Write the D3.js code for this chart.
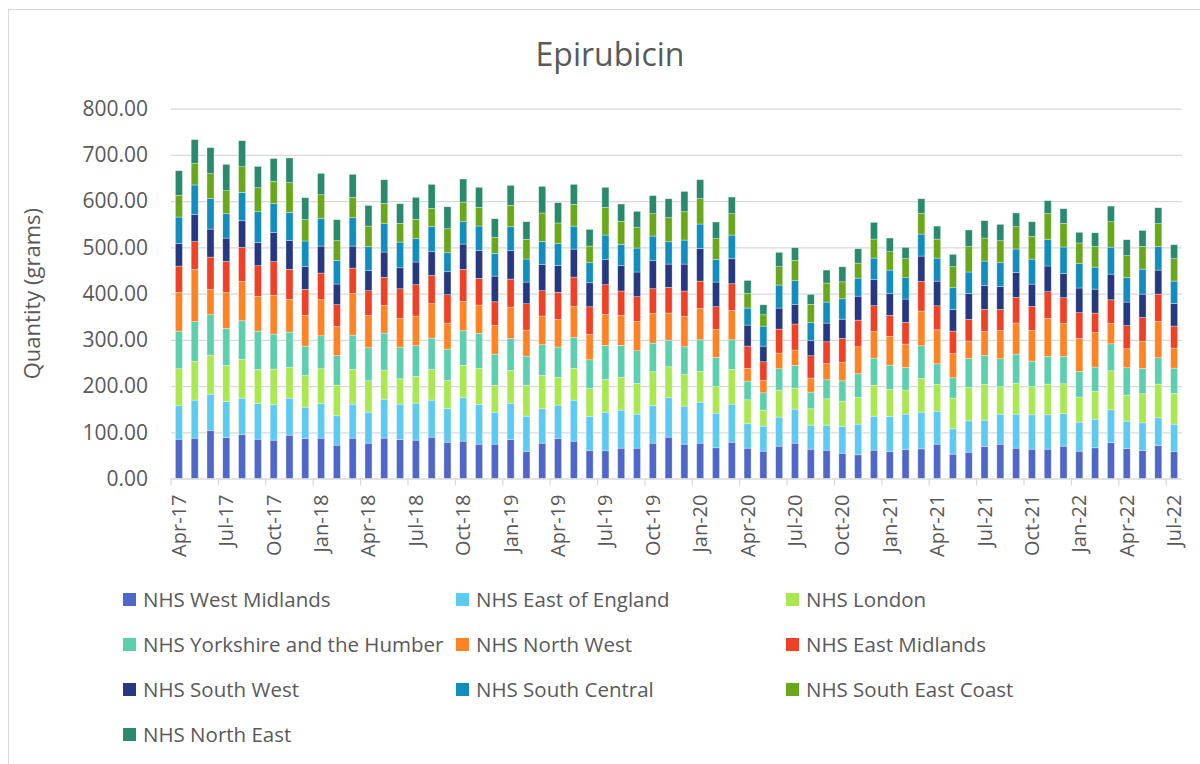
<!DOCTYPE html>
<html>
<head>
<meta charset="utf-8">
<script src="https://cdn.jsdelivr.net/npm/d3@7"></script>
<style>
  body { margin: 0; background: #fff; }
  text { font-family: "Open Sans", sans-serif; fill: #595959; }
</style>
</head>
<body>
<script>
// Chart size
var svgWidth = 1200;
var svgHeight = 764;

// Months (categories)
var months = [
  "Apr-17","May-17","Jun-17","Jul-17","Aug-17","Sep-17","Oct-17","Nov-17","Dec-17",
  "Jan-18","Feb-18","Mar-18","Apr-18","May-18","Jun-18","Jul-18","Aug-18","Sep-18","Oct-18","Nov-18","Dec-18",
  "Jan-19","Feb-19","Mar-19","Apr-19","May-19","Jun-19","Jul-19","Aug-19","Sep-19","Oct-19","Nov-19","Dec-19",
  "Jan-20","Feb-20","Mar-20","Apr-20","May-20","Jun-20","Jul-20","Aug-20","Sep-20","Oct-20","Nov-20","Dec-20",
  "Jan-21","Feb-21","Mar-21","Apr-21","May-21","Jun-21","Jul-21","Aug-21","Sep-21","Oct-21","Nov-21","Dec-21",
  "Jan-22","Feb-22","Mar-22","Apr-22","May-22","Jun-22","Jul-22"
];

// Series values (grams), bottom of stack first
var westMidlands = [85.1,87.3,103.9,88.7,95.2,85.1,83,93.8,86.6,87.3,72.2,87.3,76.5,87.3,84.4,83,89.5,78.6,80.8,74.3,
  74.3,84.4,58.4,76.5,86.6,80.8,60.6,59.9,65.7,65.7,76.5,89.5,74.3,76.5,66.4,78.6,65.7,59.2,70,76.5,
  63.5,61.3,54.8,51.2,61.3,58.4,62.8,64.2,74.3,52.7,57,69.3,74.3,65.7,63.5,63.5,70,59.2,66.4,77.9,
  64.9,60.6,71.4,58.4];
var eastOfEngland = [72.2,82.3,78.6,77.9,78.6,77.2,76.5,80.1,67.8,74.3,63.5,73.6,67.1,84.4,76.5,80.1,80.1,72.9,93.8,85.9,
  69.3,78.6,76.5,74.3,72.2,88.7,73.6,83.7,82.3,73.6,81.5,85.1,82.3,88.7,75,82.3,52.7,54.1,62.8,73.6,
  51.9,54.1,58.4,66.4,73.6,75.8,76.5,79.4,71.4,54.8,67.8,57,64.9,73.6,74.3,74.3,70.7,62.8,62,70.7,
  59.2,59.9,59.9,59.2];
var london = [80.1,83.7,84.4,77.9,83.7,73.6,77.2,66.4,68.5,75.8,66.4,75,67.8,62.8,54.8,57.7,66.4,60.6,70,77.9,
  57.7,70.7,66.4,72.2,59.9,68.5,60.6,70.7,70.7,66.4,72.9,67.1,68.5,66.4,57.7,75,51.9,34.6,58.4,45.5,
  35.4,57,54.1,57.7,67.1,58.4,51.9,72.9,57.7,66.4,72.2,77.2,59.2,66.4,61.3,66.4,64.2,54.1,59.9,84.4,
  56.3,62.8,72.9,66.4];
var yorkshire = [81.5,85.9,87.3,80.1,83.7,83,75.8,76.5,63.5,71.4,63.5,74.3,71.4,80.1,68.5,66.4,67.8,67.8,75,75.8,
  67.8,69.3,63.5,66.4,65.7,67.1,62,73.6,69.3,70.7,62,57.7,59.9,68.5,62.8,64.2,40.4,37.5,46.2,49.1,
  36.1,41.1,44,51.2,58.4,52.7,49.1,70.7,44.7,44,62.8,62.8,60.6,63.5,54.8,59.9,59.2,55.6,52.7,58.4,
  59.2,54.8,57,54.8];
var northWest = [83.7,113.3,54.8,77.9,85.1,75,83.7,70.7,66.4,77.9,63.5,90.2,70,59.9,62,64.2,74.3,56.3,63.5,61.3,
  62,67.8,56.3,62,59.9,67.1,54.8,67.1,64.9,63.5,64.2,58.4,65.7,67.8,60.6,63.5,27.4,26.7,33.9,33.2,
  30.3,35.4,39.7,58.4,57.7,62,50.5,75,73.6,52.7,37.5,51.9,61.3,67.1,66.4,82.3,71.4,71.4,75,44,
  41.1,58.4,78.6,43.3];
var eastMidlands = [57,59.9,70,67.1,73.6,66.4,72.9,64.9,56.3,57.7,46.9,54.8,53.4,60.6,64.2,67.8,61.3,61.3,69.3,57.7,
  51.2,60.6,57,54.8,58.4,63.5,59.9,64.2,52.7,53.4,53.4,55.6,54.8,59.2,49.1,57.7,48.3,40.4,51.9,56.3,
  48.3,46.9,51.9,57.7,55.6,45.5,46.9,64.2,51.9,48.3,46.9,47.6,45.5,55.6,51.9,57.7,55.6,55.6,41.8,51.2,
  49.8,51.9,59.2,47.6];
var southWest = [48.3,58.4,60.6,50.5,57.7,50.5,62.8,62.8,49.1,58.4,44.7,47.6,43.3,54.8,45.5,49.1,51.2,49.8,54.8,59.9,
  55.6,61.3,46.9,56.3,57.7,60.6,51.9,54.1,54.8,53.4,60.6,50.5,58.4,70.7,53.4,54.1,45.5,33.9,45.5,41.8,
  32.5,40.4,41.8,51.9,56.3,46.9,50.5,54.8,53.4,46.9,55.6,51.9,49.8,54.1,48.3,55.6,52.7,53.4,51.9,55.6,
  51.2,50.5,51.9,49.1];
var southCentral = [57.7,64.2,65.7,52.7,61.3,66.4,62.8,60.6,55.6,59.2,51.2,61.3,51.9,61.3,55.6,50.5,54.1,41.1,48.3,53.4,
  49.1,51.9,49.8,50.5,47.6,49.8,43.3,53.4,46.2,51.9,53.4,48.3,51.9,52.7,49.1,51.2,36.8,43.3,49.8,51.9,
  39,45.5,44,39,46.9,51.2,46.2,47.6,49.8,46.9,46.9,52.7,51.2,50.5,54.1,57,57,52.7,47.6,58.4,
  53.4,54.1,50.5,48.3];
var southEastCoast = [46.9,46.2,54.1,49.8,55.6,51.9,48.3,64.2,46.2,51.9,42.6,44,44.7,44,40.4,41.8,39.7,51.9,42.6,40.4,
  34.6,46.2,42.6,61.3,44.7,46.9,36.1,59.9,49.8,44,48.3,51.9,61.3,54.8,44.7,46.2,31.7,24.5,39.7,44,
  39.7,41.1,36.8,32.5,41.1,39.7,41.1,44.7,41.1,45.5,54.8,49.8,47.6,48.3,49.1,56.3,51.2,44.7,44.7,54.8,
  46.9,49.1,49.8,48.3];
var northEast = [53.4,51.9,56.3,57,56.3,46.2,49.1,53.4,47.6,46.2,45.5,49.8,44.7,51.2,42.6,47.6,51.9,47.6,49.8,43.3,
  40.4,43.3,38.2,57.7,44,43.3,36.1,43.3,37.5,35.4,39,41.1,44,41.1,36.1,36.1,28.1,21.6,31,27.4,
  21.6,28.1,32.5,31,36.1,29.6,24.5,31.7,28.1,26.7,36.1,37.5,35.4,29.6,31.7,28.1,31.7,23.1,29.6,33.9,
  34.6,34.6,34.6,30.3];

var seriesNames = [
  "NHS West Midlands", "NHS East of England", "NHS London",
  "NHS Yorkshire and the Humber", "NHS North West", "NHS East Midlands",
  "NHS South West", "NHS South Central", "NHS South East Coast",
  "NHS North East"
];
var seriesValues = [westMidlands, eastOfEngland, london, yorkshire, northWest,
  eastMidlands, southWest, southCentral, southEastCoast, northEast];
var seriesColors = ["#4f67c8", "#5dcaf1", "#a9e851", "#5ccfae", "#fe8324",
  "#ef4125", "#253880", "#118ebd", "#69a81a", "#298a6d"];

var yTicks = [0, 100, 200, 300, 400, 500, 600, 700, 800];

// Plot area
var plot = { left: 171, right: 1182, top: 108.7, bottom: 478.5 };

var svg = d3.select("body")
  .append("svg")
  .attr("width", svgWidth)
  .attr("height", svgHeight);

// chart border
svg.append("rect")
  .attr("x", 8.5).attr("y", 9.5)
  .attr("width", 1200).attr("height", 800)
  .attr("fill", "none")
  .attr("stroke", "#d9d9d9")
  .attr("stroke-width", 1);

// build table for stacking
var table = months.map(function(m, i) {
  var row = { month: m };
  seriesNames.forEach(function(s, j) { row[s] = seriesValues[j][i]; });
  return row;
});
var stacked = d3.stack().keys(seriesNames)(table);

var xScale = d3.scaleBand()
  .domain(months)
  .range([plot.left, plot.right])
  .paddingInner(0.555)
  .paddingOuter(0.2775);

var yScale = d3.scaleLinear()
  .domain([0, 800])
  .range([plot.bottom, plot.top]);

// y axis with gridlines
var yAxis = svg.append("g")
  .attr("transform", `translate(${plot.left},0)`)
  .call(d3.axisLeft(yScale)
    .tickValues(yTicks)
    .tickSize(-(plot.right - plot.left))
    .tickPadding(23)
    .tickFormat(d3.format(".2f")));
yAxis.select(".domain").remove();
yAxis.selectAll("line").attr("stroke", "#d9d9d9").attr("stroke-width", 1.2);
yAxis.selectAll("text")
  .style("font-size", "21px")
  .style("font-family", "'Open Sans', sans-serif")
  .attr("fill", "#595959");

// bars
svg.append("g")
  .selectAll("g")
  .data(stacked)
  .enter()
  .append("g")
  .attr("fill", (d, i) => seriesColors[i])
  .selectAll("rect")
  .data(d => d)
  .enter()
  .append("rect")
  .attr("x", d => xScale(d.data.month))
  .attr("y", d => yScale(d[1]))
  .attr("width", xScale.bandwidth())
  .attr("height", d => yScale(d[0]) - yScale(d[1]))
  .attr("stroke", "rgba(255,255,255,0.55)")
  .attr("stroke-width", 0.6);

// x axis line
svg.append("line")
  .attr("x1", plot.left).attr("x2", plot.right)
  .attr("y1", plot.bottom + 0.5).attr("y2", plot.bottom + 0.5)
  .attr("stroke", "#d9d9d9")
  .attr("stroke-width", 1.2);

// tick marks between categories, every 3 months
var labelMonths = months.filter((m, i) => i % 3 === 0);
svg.append("g")
  .selectAll("line")
  .data(labelMonths)
  .enter()
  .append("line")
  .attr("x1", d => xScale(d) - xScale.step() * xScale.paddingOuter())
  .attr("x2", d => xScale(d) - xScale.step() * xScale.paddingOuter())
  .attr("y1", plot.bottom)
  .attr("y2", plot.bottom + 7)
  .attr("stroke", "#d9d9d9")
  .attr("stroke-width", 1.2);

// x labels
var xAxis = svg.append("g")
  .attr("transform", `translate(0,${plot.bottom})`)
  .call(d3.axisBottom(xScale).tickValues(labelMonths).tickSize(0));
xAxis.select(".domain").remove();
xAxis.selectAll("text")
  .attr("transform", "rotate(-90)")
  .attr("x", -16)
  .attr("y", 0)
  .attr("dy", "0.35em")
  .style("text-anchor", "end")
  .style("font-size", "20px")
  .style("font-family", "'Open Sans', sans-serif")
  .attr("fill", "#595959");

// title
svg.append("text")
  .attr("x", 610)
  .attr("y", 66)
  .attr("text-anchor", "middle")
  .style("font-size", "32px")
  .text("Epirubicin");

// y axis title
svg.append("text")
  .attr("transform", `translate(40, ${(plot.top + plot.bottom) / 2}) rotate(-90)`)
  .attr("text-anchor", "middle")
  .style("font-size", "22px")
  .text("Quantity (grams)");

// legend
var legendCols = [123, 456, 786];
var legendRows = [600, 645, 690, 735];
var legend = svg.append("g")
  .selectAll("g")
  .data(seriesNames)
  .enter()
  .append("g")
  .attr("transform", (d, i) => `translate(${legendCols[i % 3]}, ${legendRows[Math.floor(i / 3)]})`);

legend.append("rect")
  .attr("x", 0)
  .attr("y", -7)
  .attr("width", 13)
  .attr("height", 13)
  .attr("fill", (d, i) => seriesColors[i]);

legend.append("text")
  .attr("x", 20)
  .attr("y", 0)
  .attr("dy", "0.35em")
  .style("font-size", "20.5px")
  .text(d => d);
</script>
</body>
</html>
